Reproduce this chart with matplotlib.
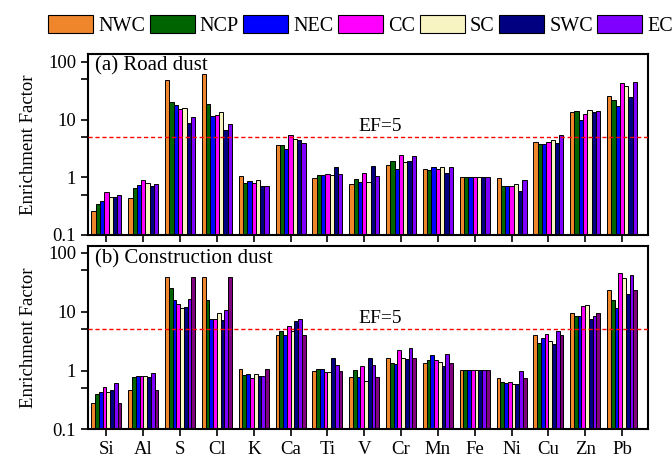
import numpy as np
import matplotlib
matplotlib.use("Agg")
import matplotlib.pyplot as plt
from matplotlib.patches import Patch
from matplotlib.ticker import FixedLocator, NullFormatter

plt.rcParams["font.family"] = ["Liberation Serif", "DejaVu Serif"]

elements = ["Si", "Al", "S", "Cl", "K", "Ca", "Ti", "V", "Cr", "Mn", "Fe", "Ni", "Cu", "Zn", "Pb"]
regions = ["NWC", "NCP", "NEC", "CC", "SC", "SWC", "EC"]
colors = ["#F0862C", "#006400", "#0000FF", "#FF00FF", "#F8F4C2", "#000080", "#7F00FF", "#800080"]

# (a) road dust, one list per region
road_nwc = [0.25, 0.42, 48, 63, 1.05, 3.67, 0.95, 0.77, 1.61, 1.36, 1.0, 0.96, 4.1, 13.6, 25.3]
road_ncp = [0.34, 0.64, 20.5, 18.7, 0.79, 3.65, 1.1, 0.92, 1.88, 1.32, 1.0, 0.70, 3.7, 14.2, 21.9]
road_nec = [0.38, 0.73, 17.7, 11.6, 0.85, 3.03, 1.1, 0.81, 1.37, 1.5, 1.0, 0.70, 3.8, 9.9, 17.3]
road_cc = [0.55, 0.88, 15.5, 11.9, 0.79, 5.4, 1.11, 1.2, 2.42, 1.37, 1.0, 0.70, 4.1, 12.4, 44]
road_sc = [0.45, 0.79, 15.7, 13.6, 0.88, 4.68, 1.08, 0.81, 1.81, 1.49, 1.0, 0.75, 4.5, 14.6, 39]
road_swc = [0.44, 0.71, 8.8, 6.7, 0.70, 4.44, 1.53, 1.59, 1.91, 1.17, 1.0, 0.58, 3.95, 13.6, 25]
road_ec = [0.49, 0.75, 11.3, 8.5, 0.69, 3.95, 1.14, 1.05, 2.32, 1.49, 1.0, 0.88, 5.5, 14.4, 44.6]

# (b) construction dust, eight series
con_s1 = [0.27, 0.45, 38.2, 38.7, 1.07, 3.96, 0.97, 0.77, 1.64, 1.35, 1.0, 0.75, 4.07, 9.5, 23.3]
con_s2 = [0.39, 0.77, 25.2, 16.0, 0.83, 4.76, 1.07, 1.03, 1.31, 1.48, 1.0, 0.62, 2.94, 8.55, 16.0]
con_s3 = [0.42, 0.79, 15.6, 7.6, 0.88, 4.07, 1.04, 0.78, 1.30, 1.8, 1.0, 0.60, 3.58, 8.55, 11.5]
con_s4 = [0.51, 0.81, 13.5, 7.6, 0.73, 5.79, 0.94, 1.17, 2.24, 1.48, 1.0, 0.64, 4.19, 12.3, 45]
con_s5 = [0.42, 0.81, 11.5, 9.5, 0.855, 4.76, 0.94, 0.66, 1.64, 1.4, 1.0, 0.58, 3.14, 13.0, 37]
con_s6 = [0.45, 0.76, 12.0, 7.2, 0.79, 7.0, 1.64, 1.62, 1.56, 1.18, 1.0, 0.58, 2.83, 7.5, 20.2]
con_s7 = [0.60, 0.91, 16.4, 10.8, 0.79, 7.5, 1.22, 1.22, 2.45, 1.89, 1.0, 0.97, 4.76, 8.55, 41.3]
con_s8 = [0.27, 0.45, 38.2, 38.7, 1.07, 3.96, 0.97, 0.77, 1.62, 1.35, 1.0, 0.75, 4.07, 9.5, 23.3]

road = [road_nwc, road_ncp, road_nec, road_cc, road_sc, road_swc, road_ec]
construction = [con_s1, con_s2, con_s3, con_s4, con_s5, con_s6, con_s7, con_s8]

fig = plt.figure(figsize=(6.72, 4.57), dpi=100)
ax1 = fig.add_axes([0.131, 0.4858, 0.833, 0.397])
ax2 = fig.add_axes([0.131, 0.0602, 0.833, 0.4015])

x = np.arange(len(elements))
group_w = 0.815


def draw_panel(ax, series, title, top):
    n = len(series)
    w = group_w / n
    for i, vals in enumerate(series):
        ax.bar(x - group_w / 2 + w * (i + 0.5), vals, width=w, bottom=0.01,
               color=colors[i], edgecolor="black", linewidth=0.7, zorder=2)
    ax.set_yscale("log")
    ax.set_ylim(0.1, top)
    ax.set_xlim(-0.5, 14.7)
    ax.yaxis.set_major_locator(FixedLocator([0.1, 1, 10, 100]))
    ax.yaxis.set_minor_locator(FixedLocator([0.5, 5, 50]))
    ax.yaxis.set_minor_formatter(NullFormatter())
    ax.set_yticklabels(["0.1", "1", "10", "100"])
    ax.set_xticks(x)
    ax.tick_params(axis="both", which="both", direction="out", length=5, width=1.2,
                   labelsize=13.5)
    ax.axhline(5, color="red", linestyle=(0, (3, 2)), linewidth=1, zorder=3)
    ax.text(7.43, 5.5, "EF=5", ha="center", va="bottom", fontsize=14)
    ax.text(0.012, 0.985, title, transform=ax.transAxes, ha="left", va="top",
            fontsize=15)
    ax.set_ylabel("Enrichment Factor", fontsize=13.5, labelpad=8)
    for s in ax.spines.values():
        s.set_linewidth(1.5)


draw_panel(ax1, road, "(a) Road dust", 140)
draw_panel(ax2, construction, "(b) Construction dust", 130)
ax1.set_xticklabels([])
ax2.set_xticklabels(elements)
fig.align_ylabels([ax1, ax2])

handles = [Patch(facecolor=colors[i], edgecolor="black", linewidth=0.8)
           for i in range(len(regions))]
fig.legend(handles, regions, loc="upper left", bbox_to_anchor=(48 / 672, 1 - 15 / 457),
           ncol=7, frameon=False, fontsize=14.5, handlelength=2.24, handleheight=1.0,
           handletextpad=0.25, columnspacing=0.22, borderpad=0, borderaxespad=0)

fig.savefig("out.png", dpi=100)
